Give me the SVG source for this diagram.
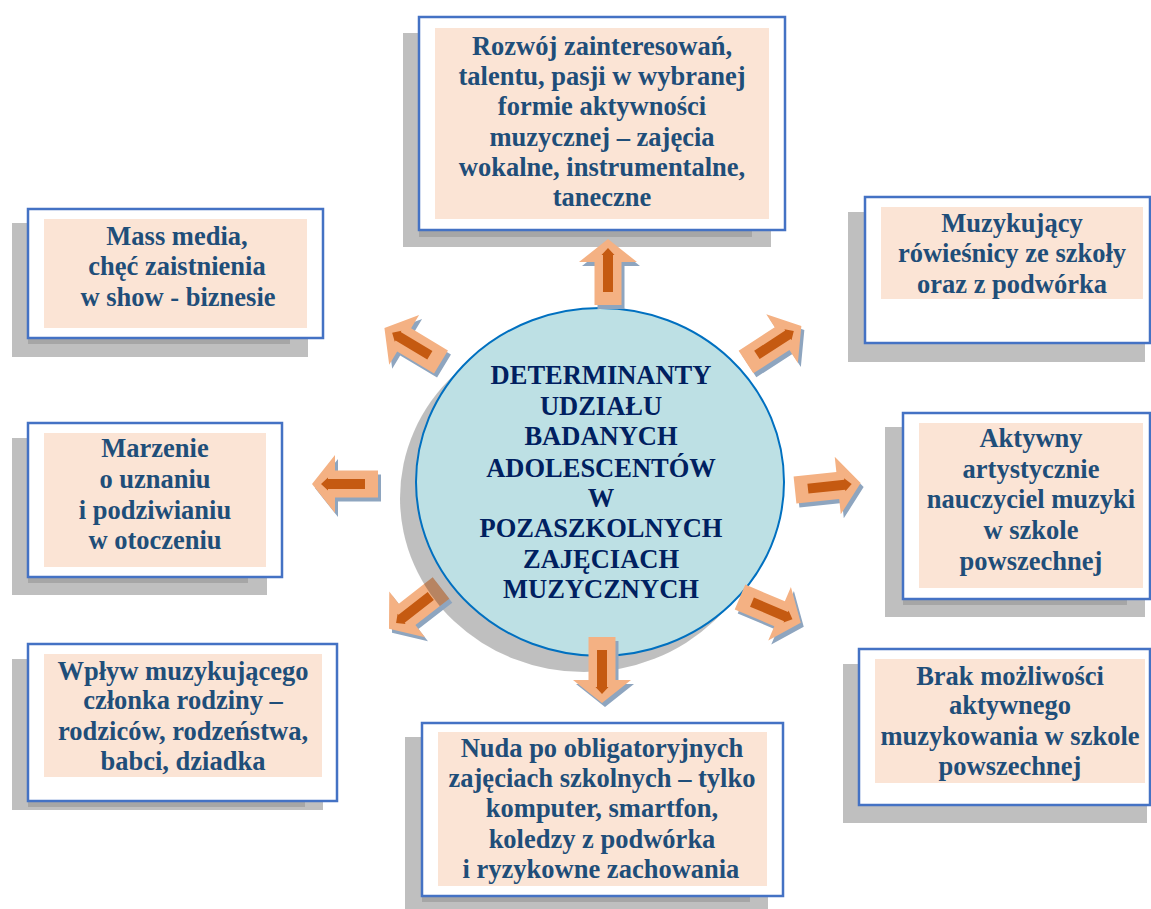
<svg xmlns="http://www.w3.org/2000/svg" width="1151" height="909" viewBox="0 0 1151 909">
<style>
.sh{fill:#bfbfbf}
.st{fill:#a6a6a6}
.bx{fill:#ffffff;stroke:#4472c4;stroke-width:2.5}
.pk{fill:#fbe4d5}
.t{font-family:"Liberation Serif","Times New Roman",serif;font-weight:bold;font-size:26.5px;fill:#1f4e79;text-anchor:middle}
.ct{font-family:"Liberation Serif","Times New Roman",serif;font-weight:bold;font-size:26.5px;fill:#002060;text-anchor:middle}
.af{fill:#f4b183}
.ai{fill:#c55a11}
.as{fill:#8ea5bf}
</style>
<defs>
<path id="ao" d="M0,-13.5 H43 V-29 L66,0 L43,29 V13.5 H0 Z"/>
<path id="ai" d="M13,-5 H50 V-6.5 L57,0 L50,6.5 V5 H13 Z"/>
<clipPath id="llclip"><use href="#ao" transform="translate(441,588) rotate(142)"/></clipPath>
</defs>
<rect width="1151" height="909" fill="#ffffff"/>

<g id="node-top">
<rect class="sh" x="403" y="33" width="368" height="214"/>
<rect class="st" x="419" y="230" width="333" height="7"/>
<rect class="bx" x="419" y="17" width="366" height="213"/>
<rect class="pk" x="435" y="28" width="334" height="191"/>
<text class="t"><tspan x="602" y="55">Rozwój zainteresowań,</tspan><tspan x="602" y="85">talentu, pasji w wybranej</tspan><tspan x="602" y="115">formie aktywności</tspan><tspan x="602" y="146">muzycznej – zajęcia</tspan><tspan x="602" y="176">wokalne, instrumentalne,</tspan><tspan x="602" y="206">taneczne</tspan></text>
</g>

<g id="node-mass-media">
<rect class="sh" x="12" y="223" width="296" height="134"/>
<rect class="st" x="28" y="338" width="262" height="6"/>
<rect class="bx" x="28" y="209" width="295" height="129"/>
<rect class="pk" x="44" y="219" width="263" height="109"/>
<text class="t"><tspan x="177" y="245">Mass media,</tspan><tspan x="177" y="275">chęć zaistnienia</tspan><tspan x="178" y="306">w show - biznesie</tspan></text>
</g>

<g id="node-rowiesnicy">
<rect class="sh" x="848" y="212" width="297" height="150"/>
<rect class="bx" x="865" y="197" width="285" height="146"/>
<rect class="pk" x="881" y="207" width="262" height="92"/>
<text class="t"><tspan x="1012" y="232">Muzykujący</tspan><tspan x="1012" y="262">rówieśnicy ze szkoły</tspan><tspan x="1012" y="293">oraz z podwórka</tspan></text>
</g>

<g id="node-marzenie">
<rect class="sh" x="12" y="438" width="255" height="157"/>
<rect class="st" x="28" y="577" width="220" height="6"/>
<rect class="bx" x="28" y="423" width="254" height="154"/>
<rect class="pk" x="44" y="433" width="222" height="134"/>
<text class="t"><tspan x="155" y="457">Marzenie</tspan><tspan x="155" y="488">o uznaniu</tspan><tspan x="155" y="519">i podziwianiu</tspan><tspan x="155" y="549">w otoczeniu</tspan></text>
</g>

<g id="node-nauczyciel">
<rect class="sh" x="885" y="427" width="260" height="190"/>
<rect class="st" x="903" y="599" width="224" height="6"/>
<rect class="bx" x="903" y="413" width="247" height="186"/>
<rect class="pk" x="919" y="423" width="224" height="165"/>
<text class="t"><tspan x="1031" y="447">Aktywny</tspan><tspan x="1031" y="478">artystycznie</tspan><tspan x="1031" y="508">nauczyciel muzyki</tspan><tspan x="1031" y="539">w szkole</tspan><tspan x="1031" y="570">powszechnej</tspan></text>
</g>

<g id="node-rodzina">
<rect class="sh" x="12" y="659" width="311" height="151"/>
<rect class="st" x="28" y="801" width="277" height="6"/>
<rect class="bx" x="28" y="644" width="309" height="157"/>
<rect class="pk" x="44" y="654" width="278" height="123"/>
<text class="t"><tspan x="183" y="680">Wpływ muzykującego</tspan><tspan x="183" y="709">członka rodziny –</tspan><tspan x="183" y="740">rodziców, rodzeństwa,</tspan><tspan x="183" y="770">babci, dziadka</tspan></text>
</g>

<g id="node-brak">
<rect class="sh" x="843" y="664" width="304" height="159"/>
<rect class="bx" x="859" y="649" width="291" height="156"/>
<rect class="pk" x="875" y="659" width="270" height="124"/>
<text class="t"><tspan x="1010" y="685">Brak możliwości</tspan><tspan x="1010" y="714">aktywnego</tspan><tspan x="1010" y="745">muzykowania w szkole</tspan><tspan x="1010" y="775">powszechnej</tspan></text>
</g>

<g id="node-nuda">
<rect class="sh" x="405" y="737" width="363" height="172"/>
<rect class="st" x="422" y="896" width="328" height="6"/>
<rect class="bx" x="422" y="723" width="361" height="173"/>
<rect class="pk" x="438" y="732" width="329" height="154"/>
<text class="t"><tspan x="602" y="757">Nuda po obligatoryjnych</tspan><tspan x="602" y="787">zajęciach szkolnych – tylko</tspan><tspan x="602" y="817">komputer, smartfon,</tspan><tspan x="602" y="848">koledzy z podwórka</tspan><tspan x="601" y="878">i ryzykowne zachowania</tspan></text>
</g>

<g id="node-center">
<ellipse cx="584" cy="498" rx="184" ry="174" fill="#000000" fill-opacity="0.25"/>
<ellipse cx="600" cy="482" rx="184" ry="174" fill="#bde0e4" stroke="#0070c0" stroke-width="2"/>
<text class="ct"><tspan x="601" y="384">DETERMINANTY</tspan><tspan x="601" y="415">UDZIAŁU</tspan><tspan x="601" y="445">BADANYCH</tspan><tspan x="601" y="477">ADOLESCENTÓW</tspan><tspan x="601" y="507">W</tspan><tspan x="601" y="537">POZASZKOLNYCH</tspan><tspan x="601" y="568">ZAJĘCIACH</tspan><tspan x="601" y="598">MUZYCZNYCH</tspan></text>
</g>

<g id="connectors">
<use href="#ao" class="as" transform="translate(611,309) rotate(-90)"/>
<g transform="translate(608,305) rotate(-90)"><use href="#ao" class="af"/><use href="#ai" class="ai"/></g>

<use href="#ao" class="as" transform="translate(749,366) rotate(-33)"/>
<g transform="translate(746,362) rotate(-33)"><use href="#ao" class="af"/><use href="#ai" class="ai"/></g>

<use href="#ao" class="as" transform="translate(798,494) rotate(-6)"/>
<g transform="translate(795,490) rotate(-6)"><use href="#ao" class="af"/><use href="#ai" class="ai"/></g>

<use href="#ao" class="as" transform="translate(743,601) rotate(23)"/>
<g transform="translate(740,597) rotate(23)"><use href="#ao" class="af"/><use href="#ai" class="ai"/></g>

<use href="#ao" class="as" transform="translate(605,641) rotate(90)"/>
<g transform="translate(602,637) rotate(90)"><use href="#ao" class="af"/><use href="#ai" class="ai"/></g>

<use href="#ao" class="as" transform="translate(444,592) rotate(142)"/>
<g transform="translate(441,588) rotate(142)"><use href="#ao" class="af"/><use href="#ai" class="ai"/></g>
<ellipse cx="584" cy="498" rx="184" ry="174" fill="#000000" fill-opacity="0.25" clip-path="url(#llclip)"/>

<use href="#ao" class="as" transform="translate(381,488) rotate(180)"/>
<g transform="translate(378,484) rotate(180)"><use href="#ao" class="af"/><use href="#ai" class="ai"/></g>

<use href="#ao" class="as" transform="translate(444,366) rotate(211)"/>
<g transform="translate(441,362) rotate(211)"><use href="#ao" class="af"/><use href="#ai" class="ai"/></g>
</g>
</svg>
